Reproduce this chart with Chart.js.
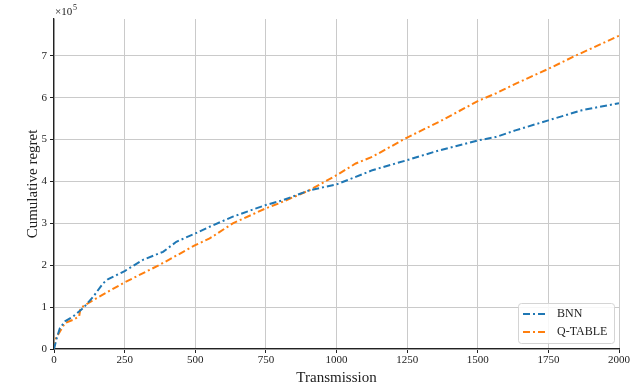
<!DOCTYPE html>
<html>
<head>
<meta charset="utf-8">
<script src="https://cdn.jsdelivr.net/npm/chart.js@4"></script>
<style>
  html, body { margin: 0; padding: 0; background: #fff; }
  #wrap { width: 631px; height: 391px; }
</style>
</head>
<body>
<div id="wrap"><canvas id="regretChart" width="631" height="391"></canvas></div>
<script>
// data (regret in units of 1e5)
const bnnSteps = [0, 8, 21, 39, 68, 104, 139, 174, 192, 250, 315, 386, 433, 500, 551, 633, 750, 809, 904, 1000, 1068, 1127, 1250, 1362, 1500, 1563, 1633, 1750, 1868, 2000];
const bnnRegret = [0, 0.22, 0.5, 0.66, 0.78, 0.98, 1.25, 1.57, 1.67, 1.86, 2.13, 2.32, 2.56, 2.76, 2.92, 3.16, 3.44, 3.55, 3.79, 3.93, 4.11, 4.27, 4.51, 4.74, 4.98, 5.06, 5.22, 5.46, 5.7, 5.87];

const qSteps = [0, 2, 21, 39, 68, 89, 94, 139, 250, 374, 500, 551, 633, 750, 797, 904, 1000, 1068, 1127, 1250, 1362, 1500, 1563, 1633, 1750, 1845, 2000];
const qRegret = [0, 0.2, 0.42, 0.62, 0.7, 0.78, 0.98, 1.17, 1.59, 2.01, 2.48, 2.64, 3.0, 3.36, 3.48, 3.79, 4.15, 4.43, 4.59, 5.05, 5.42, 5.92, 6.1, 6.33, 6.69, 7.0, 7.48];

const xTicks = [0, 250, 500, 750, 1000, 1250, 1500, 1750, 2000];
const yTicks = [0, 1, 2, 3, 4, 5, 6, 7];
const scaleExp = 5;

const serif = "'Liberation Serif', 'DejaVu Serif', serif";

function toPoints(xs, ys) {
    return xs.map((x, i) => ({ x: x, y: ys[i] * Math.pow(10, scaleExp) }));
}

// legend box in the lower right + the x10^5 offset label
const extras = {
    id: 'extras',
    afterDraw(chart) {
        const c = chart.ctx;
        const area = chart.chartArea;
        c.save();
        // offset text
        c.fillStyle = '#222';
        c.font = '11px ' + serif;
        c.textBaseline = 'alphabetic';
        c.fillText('\u00d710', area.left + 1, 15);
        c.font = '8px ' + serif;
        c.fillText(String(scaleExp), area.left + 19, 10);

        // legend
        const bx = 518, by = 303, bw = 96, bh = 40;
        c.fillStyle = 'rgba(255,255,255,0.85)';
        c.strokeStyle = '#d4d4d4';
        c.lineWidth = 1;
        c.beginPath();
        c.roundRect(bx + 0.5, by + 0.5, bw, bh, 3);
        c.fill();
        c.stroke();
        chart.data.datasets.forEach((ds, i) => {
            const yy = by + 11 + i * 18;
            c.strokeStyle = ds.borderColor;
            c.lineWidth = 2;
            c.setLineDash([7, 3, 2, 3]);
            c.beginPath();
            c.moveTo(bx + 5, yy);
            c.lineTo(bx + 30, yy);
            c.stroke();
            c.setLineDash([]);
            c.fillStyle = '#222';
            c.font = '12px ' + serif;
            c.textBaseline = 'middle';
            c.fillText(ds.label, bx + 39, yy);
        });
        c.restore();
    }
};

const ctx = document.getElementById('regretChart').getContext('2d');

const regretChart = new Chart(ctx, {
    type: 'line',
    data: {
        datasets: [{
            label: 'BNN',
            data: toPoints(bnnSteps, bnnRegret),
            borderColor: '#1f77b4',
            borderWidth: 2,
            borderDash: [7, 3, 2, 3],
            pointRadius: 0,
            tension: 0,
            fill: false
        }, {
            label: 'Q-TABLE',
            data: toPoints(qSteps, qRegret),
            borderColor: '#ff7f0e',
            borderWidth: 2,
            borderDash: [7, 3, 2, 3],
            pointRadius: 0,
            tension: 0,
            fill: false
        }]
    },
    options: {
        responsive: false,
        animation: false,
        layout: { autoPadding: false, padding: { top: 19, right: 11, left: 0, bottom: 0 } },
        plugins: { legend: { display: false }, tooltip: { enabled: false } },
        scales: {
            x: {
                type: 'linear',
                min: 0,
                max: 2000,
                afterBuildTicks: (s) => { s.ticks = xTicks.map(v => ({ value: v })); },
                afterFit: (s) => { s.height = 42; },
                ticks: {
                    color: '#222',
                    font: { family: serif, size: 11 },
                    padding: 1,
                    maxRotation: 0,
                    callback: (v) => String(v)
                },
                grid: { color: '#cacaca', lineWidth: 1, tickColor: '#222', tickLength: 4 },
                border: { color: '#222', width: 1.3 },
                title: { display: true, text: 'Transmission', color: '#222', font: { family: serif, size: 15 }, padding: { top: 0, bottom: 4 } }
            },
            y: {
                min: 0,
                max: 788000,
                afterBuildTicks: (s) => { s.ticks = yTicks.map(v => ({ value: v * Math.pow(10, scaleExp) })); },
                afterFit: (s) => { s.width = 54; },
                ticks: {
                    color: '#222',
                    font: { family: serif, size: 11 },
                    padding: 3,
                    callback: (v) => String(v / Math.pow(10, scaleExp))
                },
                grid: { color: '#cacaca', lineWidth: 1, tickColor: '#222', tickLength: 4 },
                border: { color: '#222', width: 1.3 },
                title: { display: true, text: 'Cumulative regret', color: '#222', font: { family: serif, size: 15 }, padding: { top: 24, bottom: 0 } }
            }
        }
    },
    plugins: [extras]
});
</script>
</body>
</html>
